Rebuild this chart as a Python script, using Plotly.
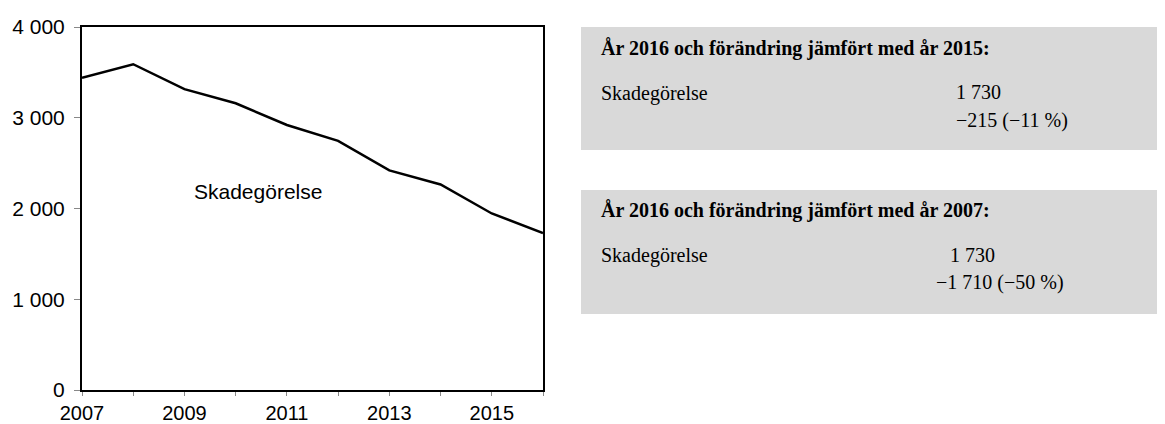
import plotly.graph_objects as go

# ---- data ----
years = [2007, 2008, 2009, 2010, 2011, 2012, 2013, 2014, 2015, 2016]
skadegorelse = [3440, 3590, 3315, 3160, 2920, 2745, 2420, 2265, 1945, 1730]
x_tickvals = years
x_ticktext = ["2007", "", "2009", "", "2011", "", "2013", "", "2015", ""]
y_tickvals = [0, 1000, 2000, 3000, 4000]
y_ticktext = ["0", "1 000", "2 000", "3 000", "4 000"]
series_label = "Skadegörelse"

box1_title = "År 2016 och förändring jämfört med år 2015:"
box1_value = "1 730"
box1_change = "−215 (−11 %)"
box2_title = "År 2016 och förändring jämfört med år 2007:"
box2_value = "1 730"
box2_change = "−1 710 (−50 %)"

# ---- layout geometry (screen pixels; page body has an 8px default margin) ----
OFF = 8
W, H = 1165 - OFF, 424 - OFF
L, R, T, B = 82, 543, 27, 390          # plot area on screen
PW, PH = R - L, B - T


def px(x):
    return (x - L) / PW


def py(y):
    return (B - y) / PH


fig = go.Figure()
fig.add_trace(go.Scatter(x=years, y=skadegorelse, mode="lines",
                         line=dict(color="black", width=2.5),
                         showlegend=False, hoverinfo="skip"))

axis_font = dict(family="Liberation Sans, Arial, sans-serif", size=21, color="black")
common = dict(showline=True, linecolor="black", linewidth=2, mirror=True,
              ticks="outside", tickwidth=1, tickcolor="#888888",
              automargin=False, showgrid=False, zeroline=False)
fig.update_xaxes(range=[2007, 2016], tickvals=x_tickvals, ticktext=x_ticktext,
                 ticklen=4, ticklabelstandoff=0,
                 tickfont=dict(axis_font, size=20), **common)
fig.update_yaxes(range=[0, 4000], tickvals=y_tickvals, ticktext=y_ticktext,
                 ticklen=6, ticklabelstandoff=5, tickfont=axis_font, **common)

fig.add_annotation(x=2010.44, y=2182, xref="x", yref="y", text=series_label,
                   showarrow=False, font=axis_font, xanchor="center", yanchor="middle")

# grey boxes
for top, bot in [(27, 150), (190, 314)]:
    fig.add_shape(type="rect", xref="paper", yref="paper",
                  x0=px(581), x1=px(1165), y0=py(bot), y1=py(top),
                  fillcolor="#d9d9d9", line=dict(width=0), layer="below")

SZ = 20
serif = "Liberation Serif, Times New Roman, serif"


def text_at(x, baseline, txt, bold=False):
    fig.add_annotation(x=px(x), y=py(baseline - 0.34 * SZ), xref="paper", yref="paper",
                       text=f"<b>{txt}</b>" if bold else txt, showarrow=False,
                       xanchor="left", yanchor="middle",
                       font=dict(family=serif, size=SZ, color="black"))


text_at(599, 55, box1_title, bold=True)
text_at(599, 100, series_label)
text_at(954, 99, box1_value)
text_at(954, 127, box1_change)

text_at(599, 217, box2_title, bold=True)
text_at(599, 262, series_label)
text_at(948, 262, box2_value)
text_at(934, 289, box2_change)

fig.update_layout(width=W, height=H,
                  margin=dict(l=L - OFF, r=W - (R - OFF), t=T - OFF, b=H - (B - OFF)),
                  paper_bgcolor="white", plot_bgcolor="white")

fig.write_html("out.html")
